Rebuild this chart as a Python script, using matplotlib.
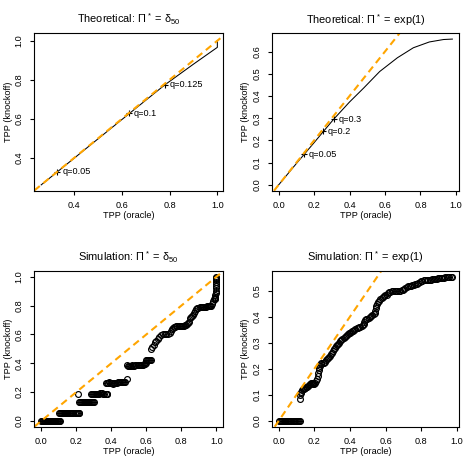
import numpy as np
import matplotlib
matplotlib.use("Agg")
import matplotlib.pyplot as plt

plt.rcParams['font.family'] = ['Liberation Sans', 'DejaVu Sans']
plt.rcParams['mathtext.default'] = 'regular'

# Courbes théoriques
theo_d50_x = [0.261, 0.33, 0.45, 0.63, 0.78, 0.90, 1.0, 1.0]
theo_d50_y = [0.261, 0.329, 0.448, 0.626, 0.774, 0.880, 0.966, 1.0]
theo_d50_q = ['q=0.05', 'q=0.1', 'q=0.125']
theo_d50_qx = [0.329, 0.628, 0.779]
theo_d50_qy = [0.328, 0.628, 0.774]

theo_exp_x = [0.0, 0.05, 0.10, 0.15, 0.20, 0.25, 0.31, 0.40, 0.48, 0.57, 0.67, 0.76, 0.85, 0.93, 0.98]
theo_exp_y = [0.0, 0.048, 0.096, 0.143, 0.190, 0.238, 0.295, 0.373, 0.436, 0.510, 0.572, 0.617, 0.643, 0.654, 0.656]
theo_exp_q = ['q=0.05', 'q=0.2', 'q=0.3']
theo_exp_qx = [0.143, 0.249, 0.313]
theo_exp_qy = [0.137, 0.241, 0.296]

# Simulation, Pi* = delta_50
sim_d50_x = [0.000, 0.004, 0.008, 0.012, 0.016, 0.020, 0.024, 0.028, 0.032, 0.036, 0.040, 0.044, 0.048, 0.052,
             0.056, 0.060, 0.064, 0.068, 0.072, 0.076, 0.080, 0.084, 0.088, 0.092, 0.096, 0.100, 0.104, 0.108,
             0.100, 0.106, 0.112, 0.118, 0.124, 0.130, 0.136, 0.142, 0.148, 0.154, 0.160, 0.166, 0.172, 0.178,
             0.184, 0.190, 0.196, 0.202, 0.208, 0.214, 0.218,
             0.210,
             0.213, 0.219, 0.225, 0.231, 0.237, 0.243, 0.249, 0.255, 0.261, 0.267, 0.273, 0.279, 0.285, 0.291,
             0.297, 0.302,
             0.283, 0.289, 0.295, 0.301, 0.307, 0.313, 0.319, 0.325, 0.331, 0.337, 0.343, 0.349, 0.355, 0.361,
             0.367, 0.373, 0.377,
             0.370, 0.376, 0.382, 0.388, 0.394, 0.400, 0.406, 0.412, 0.418, 0.424, 0.430, 0.436, 0.442, 0.448,
             0.454, 0.460, 0.466, 0.472, 0.477,
             0.487,
             0.490, 0.496, 0.502, 0.508, 0.514, 0.520, 0.526, 0.532, 0.538, 0.544, 0.550, 0.556, 0.562, 0.568,
             0.574, 0.580, 0.586, 0.592, 0.598,
             0.596, 0.602, 0.608, 0.614, 0.620, 0.625,
             0.628, 0.635, 0.643, 0.650, 0.657, 0.665, 0.675, 0.685, 0.695, 0.705, 0.715, 0.725, 0.735,
             0.742, 0.748, 0.754, 0.760, 0.766, 0.772, 0.778, 0.784, 0.790, 0.796, 0.802, 0.808, 0.814,
             0.820, 0.826, 0.832, 0.838, 0.845, 0.850, 0.856, 0.862, 0.868, 0.874, 0.880, 0.886, 0.892,
             0.898, 0.904, 0.910, 0.916, 0.922, 0.928, 0.934, 0.940, 0.946, 0.952, 0.958, 0.964, 0.970,
             0.975, 0.980, 0.985, 0.990, 0.993, 0.995, 0.996, 0.997, 0.997, 0.998, 0.998, 0.999, 0.999,
             1.000, 1.000, 1.000, 0.990]
sim_d50_y = [0.0, 0.0, 0.0, 0.0, 0.0, 0.0, 0.0, 0.0, 0.0, 0.0, 0.0, 0.0, 0.0, 0.0,
             0.0, 0.0, 0.0, 0.0, 0.0, 0.0, 0.0, 0.0, 0.0, 0.0, 0.0, 0.0, 0.0, 0.0,
             0.058, 0.058, 0.058, 0.058, 0.058, 0.058, 0.058, 0.058, 0.058, 0.058, 0.058, 0.058, 0.058, 0.058,
             0.058, 0.058, 0.058, 0.058, 0.058, 0.058, 0.058,
             0.185,
             0.132, 0.132, 0.132, 0.132, 0.132, 0.132, 0.132, 0.132, 0.132, 0.132, 0.132, 0.132, 0.132, 0.132,
             0.132, 0.132,
             0.185, 0.185, 0.185, 0.185, 0.185, 0.190, 0.190, 0.190, 0.190, 0.191, 0.192, 0.192, 0.190, 0.190,
             0.190, 0.190, 0.190,
             0.265, 0.265, 0.266, 0.268, 0.266, 0.265, 0.262, 0.258, 0.260, 0.263, 0.265, 0.267, 0.270, 0.270,
             0.268, 0.268, 0.270, 0.271, 0.272,
             0.291,
             0.385, 0.384, 0.383, 0.383, 0.384, 0.385, 0.384, 0.383, 0.385, 0.386, 0.388, 0.386, 0.385, 0.387,
             0.390, 0.388, 0.392, 0.396, 0.400,
             0.420, 0.420, 0.421, 0.420, 0.420, 0.421,
             0.499, 0.510, 0.530, 0.545, 0.555, 0.570, 0.584, 0.595, 0.602, 0.605, 0.600, 0.603, 0.610,
             0.625, 0.636, 0.645, 0.650, 0.654, 0.656, 0.658, 0.658, 0.658, 0.659, 0.660, 0.661, 0.662,
             0.664, 0.666, 0.670, 0.678, 0.690, 0.715, 0.724, 0.728, 0.735, 0.748, 0.762, 0.775, 0.782,
             0.787, 0.790, 0.790, 0.791, 0.792, 0.792, 0.793, 0.794, 0.795, 0.796, 0.797, 0.798, 0.800,
             0.812, 0.830, 0.843, 0.850, 0.860, 0.875, 0.890, 0.905, 0.920, 0.935, 0.950, 0.962, 0.975,
             0.985, 0.993, 1.000, 0.845]

# Simulation, Pi* = exp(1)
sim_exp_x = [0.000, 0.006, 0.012, 0.018, 0.024, 0.030, 0.036, 0.042, 0.048, 0.054, 0.060, 0.066, 0.072, 0.078,
             0.084, 0.090, 0.096, 0.102, 0.108, 0.114, 0.120,
             0.118, 0.122, 0.124, 0.128, 0.132, 0.136, 0.140, 0.145, 0.150, 0.155, 0.160, 0.165, 0.170, 0.175,
             0.180, 0.185, 0.190, 0.195, 0.200, 0.205, 0.210, 0.214, 0.218, 0.221, 0.224, 0.227, 0.231, 0.235,
             0.240, 0.246, 0.252, 0.258, 0.264, 0.270, 0.276, 0.282, 0.288, 0.294, 0.300, 0.305, 0.310, 0.316,
             0.322, 0.328, 0.334, 0.340, 0.346, 0.352, 0.358, 0.364, 0.370, 0.376, 0.382, 0.388, 0.394, 0.400,
             0.406, 0.412, 0.418, 0.424, 0.430, 0.437, 0.444, 0.451, 0.458, 0.465, 0.472, 0.477, 0.480, 0.484,
             0.490, 0.497, 0.504, 0.511, 0.518, 0.525, 0.532, 0.538, 0.541, 0.544, 0.547, 0.552, 0.558, 0.564,
             0.570, 0.577, 0.584, 0.591, 0.598, 0.605, 0.612, 0.619, 0.626, 0.634, 0.642, 0.650, 0.658, 0.666,
             0.674, 0.682, 0.690, 0.697, 0.703, 0.710, 0.718, 0.726, 0.734, 0.742, 0.750, 0.758, 0.766, 0.774,
             0.782, 0.790, 0.798, 0.806, 0.814, 0.822, 0.830, 0.838, 0.846, 0.854, 0.862, 0.870, 0.878, 0.886,
             0.894, 0.902, 0.910, 0.918, 0.926, 0.934, 0.942, 0.950, 0.958, 0.966, 0.972]
sim_exp_y = [0.0, 0.0, 0.0, 0.0, 0.0, 0.0, 0.0, 0.0, 0.0, 0.0, 0.0, 0.0, 0.0, 0.0,
             0.0, 0.0, 0.0, 0.0, 0.0, 0.0, 0.0,
             0.083, 0.100, 0.108, 0.112, 0.117, 0.121, 0.124, 0.126, 0.127, 0.129, 0.132, 0.135, 0.138, 0.142,
             0.145, 0.147, 0.146, 0.142, 0.140, 0.144, 0.152, 0.162, 0.172, 0.185, 0.196, 0.205, 0.212, 0.218,
             0.221, 0.222, 0.223, 0.226, 0.233, 0.238, 0.242, 0.246, 0.250, 0.255, 0.262, 0.269, 0.276, 0.281,
             0.286, 0.290, 0.295, 0.300, 0.305, 0.309, 0.314, 0.318, 0.321, 0.325, 0.329, 0.333, 0.336, 0.339,
             0.342, 0.345, 0.347, 0.350, 0.352, 0.355, 0.358, 0.361, 0.362, 0.364, 0.367, 0.372, 0.380, 0.386,
             0.390, 0.393, 0.396, 0.399, 0.402, 0.405, 0.409, 0.413, 0.422, 0.432, 0.440, 0.447, 0.455, 0.461,
             0.466, 0.471, 0.475, 0.478, 0.482, 0.485, 0.489, 0.493, 0.496, 0.498, 0.499, 0.500, 0.500, 0.500,
             0.500, 0.500, 0.501, 0.503, 0.508, 0.511, 0.513, 0.516, 0.518, 0.519, 0.520, 0.521, 0.524, 0.527,
             0.530, 0.533, 0.536, 0.538, 0.540, 0.541, 0.541, 0.541, 0.542, 0.542, 0.543, 0.544, 0.545, 0.546,
             0.547, 0.548, 0.548, 0.549, 0.550, 0.551, 0.551, 0.552, 0.552, 0.553, 0.553]

FS = 6.6
ORANGE = '#FFA500'


def style_axes(ax, xlim, ylim, xt, yt, title):
    # Mise en forme façon R : ticks sortants, labels y tournés
    ax.set_xlim(xlim)
    ax.set_ylim(ylim)
    ax.set_xticks(xt)
    ax.set_xticklabels(['%.1f' % v for v in xt])
    ax.set_yticks(yt)
    ax.set_yticklabels(['%.1f' % v for v in yt])
    ax.tick_params(direction='out', length=3.1, width=0.8, labelsize=FS, pad=4.5)
    ax.tick_params(axis='y', labelrotation=90)
    for lab in ax.get_yticklabels():
        lab.set_va('center')
    for s in ax.spines.values():
        s.set_linewidth(0.8)
    ax.set_xlabel('TPP (oracle)', fontsize=FS)
    ax.xaxis.set_label_coords(0.5, -0.13)
    ax.set_ylabel('TPP (knockoff)', fontsize=FS)
    ax.yaxis.set_label_coords(-0.113, 0.5)
    ax.set_title(title, fontsize=7.9, pad=7)


fig = plt.figure(figsize=(4.73, 4.73), dpi=100)
ax1 = fig.add_axes([0.0725, 0.5968, 0.3996, 0.3328])
ax2 = fig.add_axes([0.5744, 0.5968, 0.3966, 0.3328])
ax3 = fig.add_axes([0.0725, 0.0979, 0.3996, 0.3290])
ax4 = fig.add_axes([0.5744, 0.0979, 0.3966, 0.3290])

# Panneau 1
ax1.plot(theo_d50_x, theo_d50_y, color='black', lw=0.75)
ax1.plot(theo_d50_qx, theo_d50_qy, '+', color='black', ms=4, mew=0.8)
for t, x, y in zip(theo_d50_q, theo_d50_qx, theo_d50_qy):
    ax1.annotate(t, (x, y), xytext=(3.5, 0), textcoords='offset points', va='center', fontsize=FS)
ax1.axline((0, 0), slope=1, color=ORANGE, lw=1.5, dashes=(3.4, 2.2))
style_axes(ax1, (0.232, 1.025), (0.231, 1.038), [0.4, 0.6, 0.8, 1.0], [0.4, 0.6, 0.8, 1.0],
           r'Theoretical: Π$^*$ = δ$_{50}$')

# Panneau 2
ax2.plot(theo_exp_x, theo_exp_y, color='black', lw=0.75)
ax2.plot(theo_exp_qx, theo_exp_qy, '+', color='black', ms=4, mew=0.8)
for t, x, y in zip(theo_exp_q, theo_exp_qx, theo_exp_qy):
    ax2.annotate(t, (x, y), xytext=(3.5, 0), textcoords='offset points', va='center', fontsize=FS)
ax2.axline((0, 0), slope=1, color=ORANGE, lw=1.5, dashes=(3.4, 2.2))
style_axes(ax2, (-0.039, 1.019), (-0.026, 0.682), [0, 0.2, 0.4, 0.6, 0.8, 1.0],
           [0, 0.1, 0.2, 0.3, 0.4, 0.5, 0.6], r'Theoretical: Π$^*$ = exp(1)')

# Panneau 3
ax3.plot(sim_d50_x, sim_d50_y, 'o', mfc='none', mec='black', ms=4.2, mew=0.85)
ax3.axline((0, 0), slope=1, color=ORANGE, lw=1.5, dashes=(3.4, 2.2))
style_axes(ax3, (-0.04, 1.04), (-0.04, 1.04), [0, 0.2, 0.4, 0.6, 0.8, 1.0],
           [0, 0.2, 0.4, 0.6, 0.8, 1.0], r'Simulation: Π$^*$ = δ$_{50}$')

# Panneau 4
ax4.plot(sim_exp_x, sim_exp_y, 'o', mfc='none', mec='black', ms=4.2, mew=0.85)
ax4.axline((0, 0), slope=1, color=ORANGE, lw=1.5, dashes=(3.4, 2.2))
style_axes(ax4, (-0.039, 1.013), (-0.022, 0.575), [0, 0.2, 0.4, 0.6, 0.8, 1.0],
           [0, 0.1, 0.2, 0.3, 0.4, 0.5], r'Simulation: Π$^*$ = exp(1)')

fig.savefig('out.png', dpi=100)
